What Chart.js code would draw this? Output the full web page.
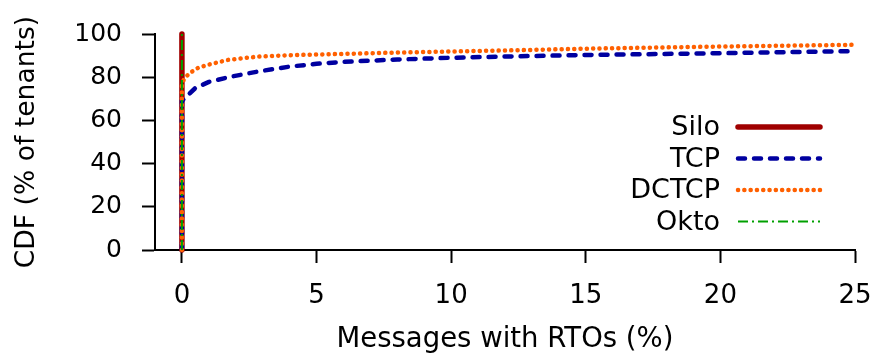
<!DOCTYPE html>
<html>
<head>
<meta charset="utf-8">
<script src="https://cdn.jsdelivr.net/npm/chart.js@4.4.0/dist/chart.umd.min.js"></script>
<style>
  html, body { margin: 0; padding: 0; background: #fff; }
  #wrap { width: 877px; height: 356px; }
</style>
</head>
<body>
<div id="wrap"><canvas id="cdfChart" width="877" height="356"></canvas></div>
<script>
const seriesNames = ['Silo', 'TCP', 'DCTCP', 'Okto'];

const siloX = [0, 0];
const siloY = [0, 100];

const tcpX = [0, 0, 0.2, 0.5, 1, 1.8, 2.9, 4, 5, 6, 8, 10, 12.5, 15, 20, 25];
const tcpY = [0, 69, 71.5, 75, 77.8, 80.2, 82.8, 84.9, 86.2, 87.1, 88.2, 89, 89.7, 90.3, 91.1, 92.1];

const dctcpX = [0, 0, 0.1, 0.3, 0.6, 0.95, 1.7, 2.8, 4, 5.7, 8, 10, 12.5, 15, 20, 25];
const dctcpY = [0, 77, 79.6, 82, 84.3, 85.7, 88, 89.5, 90.2, 90.7, 91.4, 91.9, 92.5, 93.2, 94.2, 95];

const oktoX = [0, 0];
const oktoY = [0, 100];

const xTicks = [0, 5, 10, 15, 20, 25];
const yTicks = [0, 20, 40, 60, 80, 100];

function pts(xs, ys) {
  return xs.map((x, i) => ({ x: x, y: ys[i] }));
}

const font = "'DejaVu Sans', 'Liberation Sans', sans-serif";

const data = {
  datasets: [
    {
      label: seriesNames[0],
      data: pts(siloX, siloY),
      borderColor: '#a00000',
      borderWidth: 5.5,
      borderCapStyle: 'round',
      order: 4
    },
    {
      label: seriesNames[1],
      data: pts(tcpX, tcpY),
      borderColor: '#0000a0',
      borderWidth: 4.5,
      borderCapStyle: 'round',
      borderDash: [7, 9],
      order: 3
    },
    {
      label: seriesNames[2],
      data: pts(dctcpX, dctcpY),
      borderColor: '#ff6000',
      borderWidth: 4.5,
      borderCapStyle: 'round',
      borderDash: [0.1, 6.2],
      order: 2
    },
    {
      label: seriesNames[3],
      data: pts(oktoX, oktoY),
      borderColor: '#00a000',
      borderWidth: 2,
      borderDash: [10, 4, 2, 4],
      order: 1
    }
  ]
};

// gnuplot style key: text on the left, line sample on the right
const keyPlugin = {
  id: 'key',
  afterDraw(chart) {
    const ctx = chart.ctx;
    ctx.save();
    ctx.font = '27px ' + font;
    ctx.fillStyle = '#000';
    ctx.textAlign = 'right';
    ctx.textBaseline = 'middle';
    chart.data.datasets.forEach((ds, i) => {
      const y = 127 + i * 31.5;
      ctx.fillText(ds.label, 720, y + 1);
      ctx.beginPath();
      ctx.strokeStyle = ds.borderColor;
      ctx.lineWidth = ds.borderWidth;
      ctx.lineCap = ds.borderCapStyle || 'butt';
      ctx.setLineDash(ds.borderDash || []);
      ctx.moveTo(738, y);
      ctx.lineTo(820, y);
      ctx.stroke();
    });
    ctx.restore();
  }
};

const config = {
  type: 'line',
  data: data,
  options: {
    responsive: false,
    animation: false,
    devicePixelRatio: 1,
    layout: { padding: { left: 0, right: 22, top: 34, bottom: 0 } },
    elements: {
      point: { radius: 0 },
      line: { tension: 0, fill: false }
    },
    datasets: { line: { clip: false } },
    plugins: {
      legend: { display: false },
      tooltip: { enabled: false }
    },
    scales: {
      x: {
        type: 'linear',
        min: -1,
        max: 25,
        afterBuildTicks: (s) => { s.ticks = xTicks.map(v => ({ value: v })); },
        afterFit: (s) => { s.height = 106; s.paddingLeft = 0; s.paddingRight = 0; },
        grid: { drawOnChartArea: false, drawTicks: true, tickLength: 13, tickColor: '#000', tickWidth: 2 },
        border: { display: true, color: '#000', width: 2 },
        ticks: { color: '#000', font: { family: font, size: 26 }, padding: 18, maxRotation: 0 },
        title: {
          display: true,
          text: 'Messages with RTOs (%)',
          color: '#000',
          font: { family: font, size: 27.5 },
          padding: { top: 0, bottom: 0 }
        }
      },
      y: {
        type: 'linear',
        min: 0,
        max: 100,
        afterBuildTicks: (s) => { s.ticks = yTicks.map(v => ({ value: v })); },
        afterFit: (s) => { s.width = 155; s.paddingTop = 0; s.paddingBottom = 0; },
        grid: { drawOnChartArea: false, drawTicks: true, tickLength: 13, tickColor: '#000', tickWidth: 2 },
        border: { display: true, color: '#000', width: 2 },
        ticks: { color: '#000', font: { family: font, size: 25 }, padding: 20 },
        title: {
          display: true,
          text: 'CDF (% of tenants)',
          color: '#000',
          font: { family: font, size: 26.6 },
          padding: { top: 11, bottom: 0 }
        }
      }
    }
  },
  plugins: [keyPlugin]
};

const cdfChart = new Chart(document.getElementById('cdfChart'), config);
</script>
</body>
</html>
